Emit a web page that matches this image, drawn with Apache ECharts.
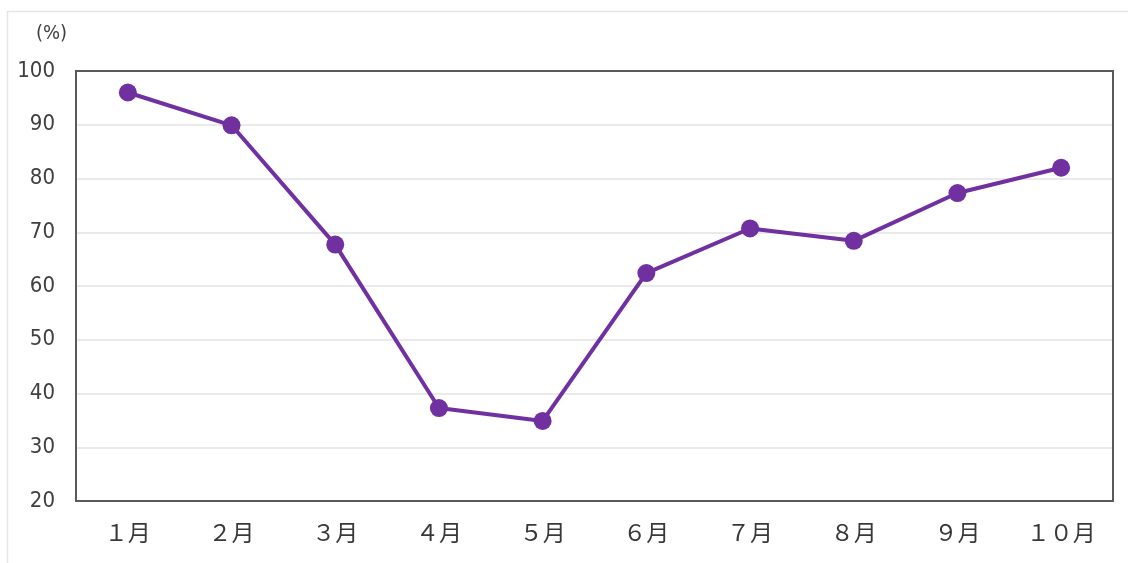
<!DOCTYPE html>
<html>
<head>
<meta charset="utf-8">
<script src="https://cdn.jsdelivr.net/npm/echarts@6/dist/echarts.min.js"></script>
<style>
  html, body { margin: 0; padding: 0; background: #fff; }
  #chart { width: 1128px; height: 563px; }
</style>
</head>
<body>
<div id="chart"></div>
<script>
const categories = ['１月', '２月', '３月', '４月', '５月', '６月', '７月', '８月', '９月', '１０月'];
const values = [96, 89.9, 67.7, 37.3, 34.9, 62.4, 70.7, 68.4, 77.3, 82.0];
const yMin = 20, yMax = 100, yStep = 10;
const unitLabel = '(%)';

const gridBox = { left: 76, top: 71, right: 1113, bottom: 501 };

const chart = echarts.init(document.getElementById('chart'), null, { renderer: 'canvas' });

chart.setOption({
  backgroundColor: '#ffffff',
  animation: false,
  graphic: [
    {
      // outer panel edge (top and left visible)
      type: 'rect',
      shape: { x: 7.5, y: 11.5, width: 1130, height: 560 },
      style: { fill: 'none', stroke: '#e6e6e6', lineWidth: 1.5 },
      silent: true, z: -10
    },
    {
      // plot frame drawn above the split lines
      type: 'rect',
      shape: {
        x: gridBox.left, y: gridBox.top,
        width: gridBox.right - gridBox.left, height: gridBox.bottom - gridBox.top
      },
      style: { fill: 'none', stroke: '#5a5a5a', lineWidth: 2 },
      silent: true, z: 1
    },
    {
      type: 'text',
      left: 36, top: 24,
      style: { text: unitLabel, font: '20px "DejaVu Sans Condensed", sans-serif', fill: '#404040' }
    }
  ],
  grid: { left: gridBox.left, right: 1128 - gridBox.right, top: gridBox.top, bottom: 563 - gridBox.bottom },
  xAxis: {
    type: 'category',
    data: categories,
    boundaryGap: true,
    axisLine: { show: false },
    axisTick: { show: false },
    axisLabel: { margin: 20, color: '#383838', fontSize: 23, fontFamily: '"Noto Sans CJK JP", sans-serif' }
  },
  yAxis: {
    type: 'value',
    min: yMin, max: yMax, interval: yStep,
    axisLine: { show: false },
    axisTick: { show: false },
    splitLine: { lineStyle: { color: '#e3e3e3', width: 1.5 } },
    axisLabel: { margin: 21, color: '#404040', fontSize: 22, fontFamily: '"DejaVu Sans Condensed", sans-serif' }
  },
  series: [{
    type: 'line',
    data: values,
    symbol: 'circle',
    symbolSize: 18,
    z: 5,
    lineStyle: { color: '#7030A0', width: 4 },
    itemStyle: { color: '#7030A0' }
  }]
});
</script>
</body>
</html>
